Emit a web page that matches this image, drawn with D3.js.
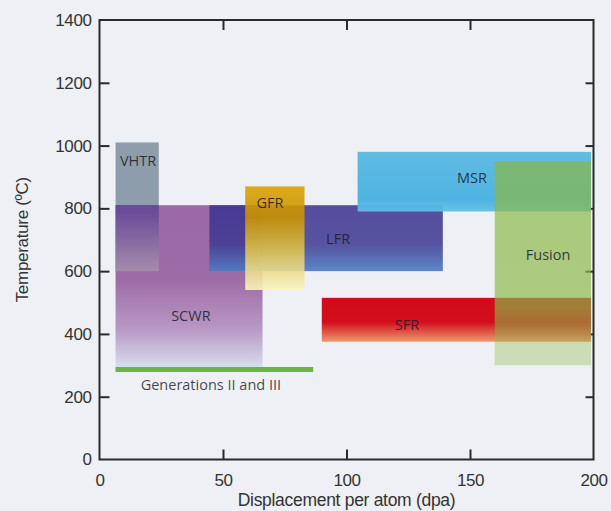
<!DOCTYPE html>
<html>
<head>
<meta charset="utf-8">
<script src="https://cdn.jsdelivr.net/npm/d3@7"></script>
<style>
  html, body { margin: 0; padding: 0; background: #eff0f5; }
  svg { display: block; }
</style>
</head>
<body>
<svg id="chart" width="611" height="511"></svg>
<script>
// ---- data ----
const reactors = ["VHTR", "SCWR", "LFR", "GFR", "MSR", "SFR", "Fusion"];
const dpaMin  = [6.5, 6.5, 44.5, 59, 104.5, 90, 160];
const dpaMax  = [24, 66, 139, 83, 199, 199, 199];
const tempMin = [600, 290, 600, 540, 790, 375, 300];
const tempMax = [1010, 810, 810, 870, 980, 515, 950];
// label anchors in data units
const labelDpa  = [15.6, 37, 96.6, 69, 150.8, 124.5, 181.6];
const labelTemp = [936, 442, 687, 802, 882, 413, 636];
// Generations II and III line
const genName = "Generations II and III";
const genDpa = [6.5, 86.5];
const genTemp = 287;
const genLabel = [45.1, 222];
// axes
const xTicks = [0, 50, 100, 150, 200];
const yTicks = [0, 200, 400, 600, 800, 1000, 1200, 1400];
const xTitle = "Displacement per atom (dpa)";
const yTitle = "Temperature (ºC)";

// ---- setup ----
const svg = d3.select("#chart");
const x = d3.scaleLinear().domain([0, 200]).range([99.5, 593.5]);
const y = d3.scaleLinear().domain([0, 1400]).range([459.5, 20]);
const axisColor = "#2a2a2a";
const fmt = d3.format("d");

const rows = reactors.map((name, i) => ({
  name, x0: dpaMin[i], x1: dpaMax[i], t0: tempMin[i], t1: tempMax[i],
  lx: labelDpa[i], ly: labelTemp[i]
}));
const byName = Object.fromEntries(rows.map(r => [r.name, r]));

// gradients
const defs = svg.append("defs");
const vh = byName.VHTR, sc = byName.SCWR;
const split = (vh.t1 - sc.t1) / (vh.t1 - vh.t0);
const grads = {
  VHTR: [[0, "#8e9dab", 1], [split, "#8e9dab", 1], [split, "#6a4a98", 1], [0.55, "#6c4c98", 1], [1, "#a48caa", 1]],
  SCWR: [[0, "#9b68a5", 1], [0.45, "#9d6ca7", 1], [0.76, "#b898c4", 1], [1, "#d8e0f0", 1]],
  LFR: [[0, "#3c3290", 0.86], [0.6, "#3e3a92", 0.86], [1, "#4a7cc4", 0.9]],
  GFR: [[0, "#dba300", 0.9], [0.3, "#c99200", 0.9], [0.6, "#dcc04a", 0.9], [1, "#faf4c4", 0.9]],
  MSR: [[0, "#58b8e0", 0.94], [0.8, "#44b0e0", 0.94], [1, "#62bfe8", 0.94]],
  SFR: [[0, "#d20a1a", 1], [0.55, "#d20e1c", 1], [1, "#ec9a70", 1]],
  Fusion: [[0, "#8ab846", 0.7], [0.72, "#8ab846", 0.66], [0.9, "#8ab846", 0.36], [1, "#8ab846", 0.35]]
};
Object.entries(grads).forEach(([name, stops]) => {
  const g = defs.append("linearGradient").attr("id", "g-" + name)
    .attr("x1", 0).attr("y1", 0).attr("x2", 0).attr("y2", 1);
  stops.forEach(([o, c, a]) => g.append("stop").attr("offset", o).attr("stop-color", c).attr("stop-opacity", a));
});

// ---- axes (frame) ----
const tickW = 2;
const axLeft = svg.append("g").attr("transform", `translate(${x(0)},0)`)
  .call(d3.axisLeft(y).tickValues(yTicks).tickFormat(fmt).tickSizeInner(-10).tickSizeOuter(0).tickPadding(8));
const axBottom = svg.append("g").attr("transform", `translate(0,${y(0)})`)
  .call(d3.axisBottom(x).tickValues(xTicks).tickFormat(fmt).tickSizeInner(-10).tickSizeOuter(0).tickPadding(14));
const axTop = svg.append("g").attr("transform", `translate(0,${y(1400)})`)
  .call(d3.axisTop(x).tickValues(xTicks.slice(1, -1)).tickSizeInner(-10).tickSizeOuter(0).tickFormat(""));
const axRight = svg.append("g").attr("transform", `translate(${x(200)},0)`)
  .call(d3.axisRight(y).tickValues(yTicks.slice(1, -1)).tickSizeInner(-8).tickSizeOuter(0).tickFormat(""));

[axLeft, axBottom, axTop, axRight].forEach(g => {
  g.select(".domain").remove();
  g.selectAll(".tick line").attr("stroke", axisColor).attr("stroke-width", tickW);
  g.selectAll(".tick text").attr("fill", "#333")
    .style("font-family", "'Liberation Sans', Arial, sans-serif")
    .style("font-size", "17px").style("letter-spacing", "-0.4px");
});
axLeft.selectAll(".tick").filter(d => d === 0 || d === 1400).select("line").remove();
axBottom.selectAll(".tick").filter(d => d === 0 || d === 200).select("line").remove();

// ---- rectangles ----
const drawOrder = ["SCWR", "VHTR", "LFR", "GFR", "MSR", "SFR", "Fusion"];
svg.append("g").selectAll("rect")
  .data(drawOrder.map(n => byName[n]))
  .join("rect")
  .attr("x", d => x(d.x0))
  .attr("y", d => y(d.t1))
  .attr("width", d => x(d.x1) - x(d.x0))
  .attr("height", d => y(d.t0) - y(d.t1))
  .attr("fill", d => `url(#g-${d.name})`);

// Generations II and III line
svg.append("line")
  .attr("x1", x(genDpa[0])).attr("x2", x(genDpa[1]))
  .attr("y1", y(genTemp)).attr("y2", y(genTemp))
  .attr("stroke", "#6cb33f").attr("stroke-width", 5);

// frame
svg.append("rect")
  .attr("x", x(0)).attr("y", y(1400))
  .attr("width", x(200) - x(0)).attr("height", y(0) - y(1400))
  .attr("fill", "none").attr("stroke", axisColor).attr("stroke-width", 2);

// ---- labels ----
const labelFont = "'Open Sans', 'Noto Sans', sans-serif";
svg.append("g").selectAll("text")
  .data(rows)
  .join("text")
  .attr("x", d => x(d.lx)).attr("y", d => y(d.ly))
  .attr("text-anchor", "middle")
  .attr("fill", "#1a1a28").attr("fill-opacity", 0.85)
  .style("font-family", labelFont).style("font-size", "14.5px")
  .text(d => d.name);

svg.append("text")
  .attr("x", x(genLabel[0])).attr("y", y(genLabel[1]))
  .attr("text-anchor", "middle")
  .attr("fill", "#1a1a28").attr("fill-opacity", 0.82)
  .style("font-family", labelFont).style("font-size", "14.5px")
  .text(genName);

// axis titles
svg.append("text")
  .attr("x", (x(0) + x(200)) / 2).attr("y", 506)
  .attr("text-anchor", "middle").attr("fill", "#333")
  .style("font-family", "'Liberation Sans', Arial, sans-serif").style("font-size", "17.5px")
  .style("letter-spacing", "-0.3px")
  .text(xTitle);

svg.append("text")
  .attr("transform", `translate(28,${(y(0) + y(1400)) / 2}) rotate(-90)`)
  .attr("text-anchor", "middle").attr("fill", "#333")
  .style("font-family", "'Liberation Sans', Arial, sans-serif").style("font-size", "17px")
  .style("letter-spacing", "-0.3px")
  .text(yTitle);
</script>
</body>
</html>
